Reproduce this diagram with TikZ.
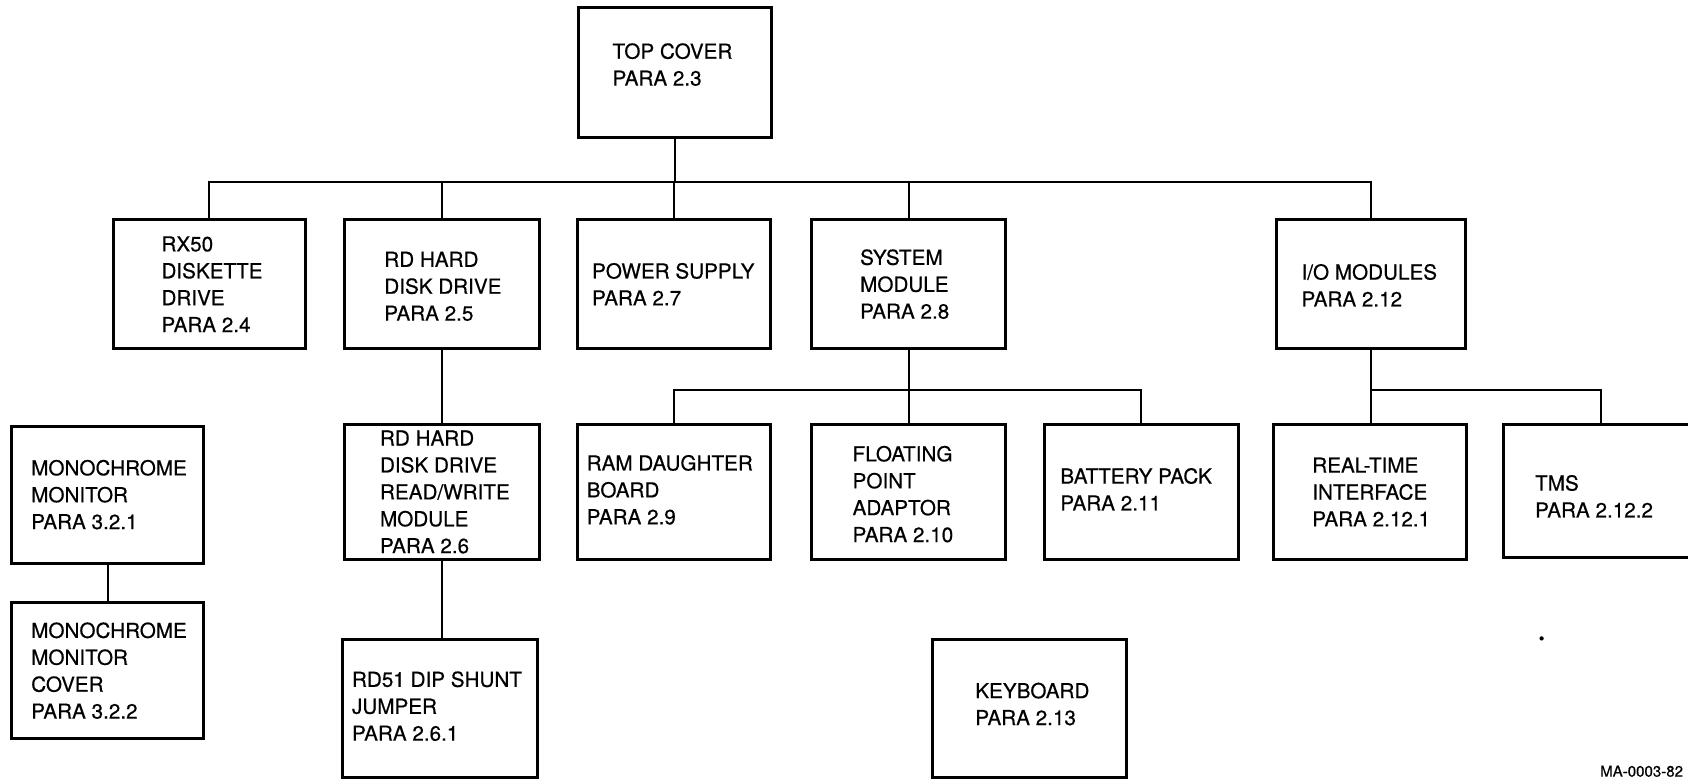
\documentclass[tikz,border=0pt]{standalone}
\usepackage{fontspec}
\setmainfont{TeX Gyre Heros}[FakeBold=0.5]
\usetikzlibrary{positioning}
\begin{document}
\begin{tikzpicture}[x=0.5pt,y=-0.5pt,
  unit/.style={draw,line width=1.4pt,minimum width=90pt,minimum height=60pt,inner sep=0pt},
  lbl/.style={align=left,inner sep=0pt,anchor=west,font=\fontsize{9.6}{12.5}\selectfont},
  link/.style={line width=1pt}]
\useasboundingbox (0,0) rectangle (1568,724);
% boxes
\node[unit,minimum height=60.5pt] (top) at (627,67.5) {};
\node[unit,minimum width=89.5pt] (rx) at (194.5,264) {};
\node[unit,minimum width=90.5pt] (rd) at (410.5,264) {};
\node[unit] (ps) at (626,264) {};
\node[unit] (sys) at (844,264) {};
\node[unit,minimum width=87.5pt] (io) at (1273.5,264) {};
\node[unit,minimum width=90.5pt,minimum height=63pt] (rdrw) at (410.5,457) {};
\node[unit,minimum width=90.5pt,minimum height=64pt] (rd51) at (408.5,658) {};
\node[unit,minimum height=63pt] (ram) at (626,457) {};
\node[unit,minimum height=63pt] (fpa) at (844,457) {};
\node[unit,minimum height=63pt] (bat) at (1060,457) {};
\node[unit,minimum width=89.5pt,minimum height=63pt] (rtc) at (1272.5,457) {};
\node[unit,minimum height=62pt] (tms) at (1487,456) {};
\node[unit,minimum width=89pt,minimum height=63.5pt] (mon) at (100,459.5) {};
\node[unit,minimum width=89pt,minimum height=63pt] (cov) at (100,623) {};
\node[unit,minimum height=64pt] (kbd) at (956,658) {};
% texts
\node[lbl,xshift=16.5pt,yshift=3.75pt] (top-t) at (top.west) {TOP COVER\\PARA 2.3};
\node[lbl,xshift=23pt] (rx-t) at (rx.west) {RX50\\DISKETTE\\DRIVE\\PARA 2.4};
\node[lbl,xshift=19pt,yshift=-1pt] (rd-t) at (rd.west) {RD HARD\\DISK DRIVE\\PARA 2.5};
\node[lbl,xshift=7.5pt] (ps-t) at (ps.west) {POWER SUPPLY\\PARA 2.7};
\node[lbl,xshift=23pt] (sys-t) at (sys.west) {SYSTEM\\MODULE\\PARA 2.8};
\node[lbl,xshift=12pt,yshift=-0.5pt] (io-t) at (io.west) {I/O MODULES\\PARA 2.12};
\node[lbl,xshift=17pt] (rdrw-t) at (rdrw.west) {RD HARD\\DISK DRIVE\\READ/WRITE\\MODULE\\PARA 2.6};
\node[lbl,xshift=5pt,yshift=1pt] (rd51-t) at (rd51.west) {RD51 DIP SHUNT\\JUMPER\\PARA 2.6.1};
\node[lbl,xshift=5pt,yshift=1pt] (ram-t) at (ram.west) {RAM DAUGHTER\\BOARD\\PARA 2.9};
\node[lbl,xshift=19.5pt,yshift=-1pt] (fpa-t) at (fpa.west) {FLOATING\\POINT\\ADAPTOR\\PARA 2.10};
\node[lbl,xshift=8pt,yshift=1.25pt] (bat-t) at (bat.west) {BATTERY PACK\\PARA 2.11};
\node[lbl,xshift=18.5pt] (rtc-t) at (rtc.west) {REAL-TIME\\INTERFACE\\PARA 2.12.1};
\node[lbl,xshift=15pt,yshift=-2.5pt] (tms-t) at (tms.west) {TMS\\PARA 2.12.2};
\node[lbl,xshift=9.5pt] (mon-t) at (mon.west) {MONOCHROME\\MONITOR\\PARA 3.2.1};
\node[lbl,xshift=9.5pt] (cov-t) at (cov.west) {MONOCHROME\\MONITOR\\COVER\\PARA 3.2.2};
\node[lbl,xshift=20.5pt,yshift=2pt] (kbd-t) at (kbd.west) {KEYBOARD\\PARA 2.13};
% connectors
\coordinate (bus) at (0,169);
\coordinate (sysbus) at (0,362);
\coordinate (iobus) at (0,362);
\draw[link] (top.south) -- (top.south |- bus);
\draw[link] (rx.north) |- (io.north |- bus) -- (io.north);
\draw[link] (rd.north) -- (rd.north |- bus);
\draw[link] (ps.north) -- (ps.north |- bus);
\draw[link] (sys.north) -- (sys.north |- bus);
\draw[link] (rd.south) -- (rdrw.north);
\draw[link] (rdrw.south) -- (rdrw.south |- rd51.north);
\draw[link] (sys.south) -- (fpa.north);
\draw[link] (ram.north) |- (bat.north |- sysbus) -- (bat.north);
\draw[link] (io.south) -- (io.south |- rtc.north);
\draw[link] (io.south |- iobus) -| (tms.north);
\draw[link] (mon.south) -- (cov.north);
% marks
\fill (1432,593) circle (1pt);
\node[anchor=south west,inner sep=0pt,font=\fontsize{7}{8}\selectfont] (fig) at (1486,722) {MA-0003-82};
\end{tikzpicture}
\end{document}
